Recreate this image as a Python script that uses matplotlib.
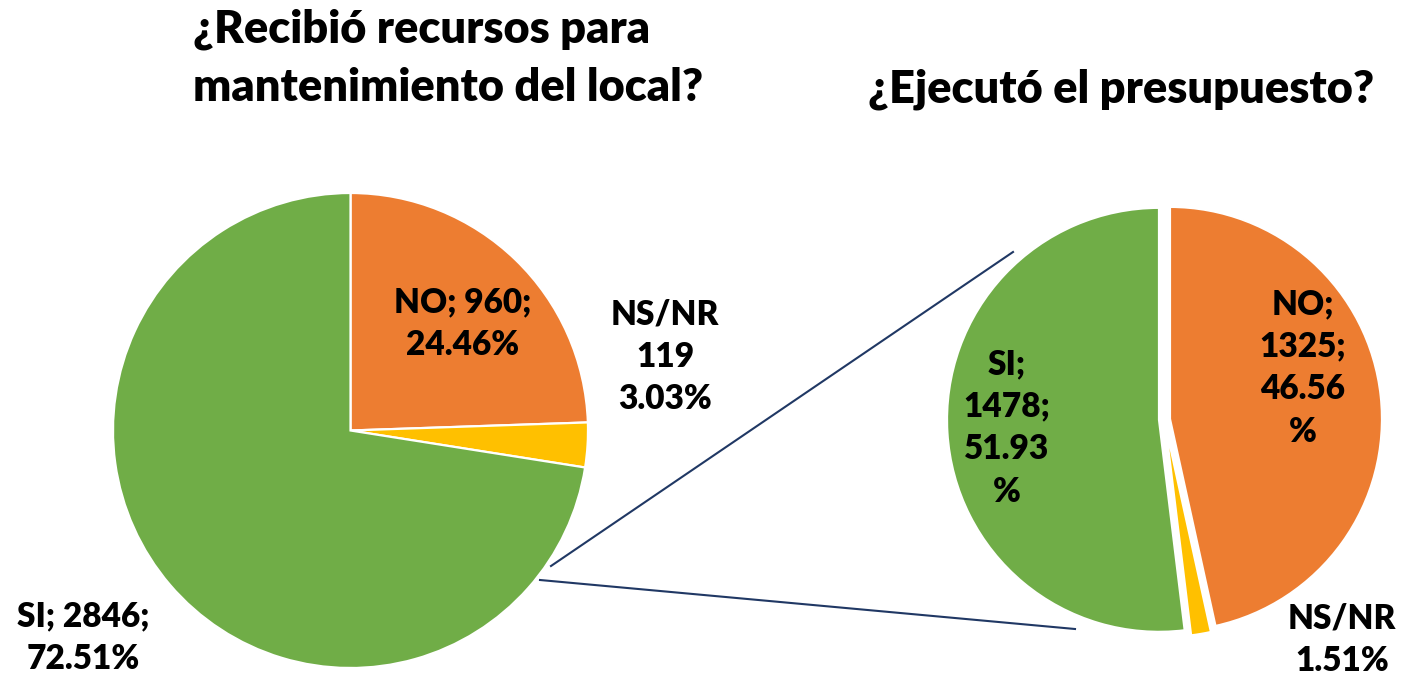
import matplotlib.pyplot as plt

plt.rcParams["font.family"] = ["Lato", "DejaVu Sans"]

# Data
categories = ["NO", "NS/NR", "SI"]
colors = ["#ED7D31", "#FFC000", "#70AD47"]

# Left pie: ¿Recibió recursos para mantenimiento del local?
left_counts = [960, 119, 2846]
left_pcts = [24.46, 3.03, 72.51]

# Right pie: ¿Ejecutó el presupuesto?
right_counts = [1325, 43, 1478]
right_pcts = [46.56, 1.51, 51.93]

W, H = 1422, 679
fig = plt.figure(figsize=(W / 100, H / 100), dpi=100)
ax = fig.add_axes([0, 0, 1, 1])


def py(y):
    # pixel y (from top) -> data y
    return H - y


wp = dict(edgecolor="white", linewidth=1.6)

ax.pie(left_counts, colors=colors, startangle=90, counterclock=False,
       center=(350.5, py(430.5)), radius=237.5, wedgeprops=wp)

# explode is in data units here (pixels)
ax.pie(right_counts, colors=colors, startangle=90, counterclock=False,
       center=(1164.5, py(419.5)), radius=212, explode=[5.5, 5.5, 5.5],
       wedgeprops=wp)

ax.set_xlim(0, W)
ax.set_ylim(0, H)
ax.set_aspect("equal")
ax.axis("off")

# connector lines from the SI slice to the second pie
line_color = "#203864"
ax.plot([551, 1013], [py(566), py(252)], color=line_color, lw=1.5)
ax.plot([540, 1075], [py(580), py(629)], color=line_color, lw=1.5)

fw = "heavy"
tsize = 32.5

# titles
ax.text(193, py(42), "¿Recibió recursos para", fontsize=tsize, fontweight=fw,
        ha="left", va="baseline")
ax.text(193, py(101), "mantenimiento del local?", fontsize=tsize, fontweight=fw,
        ha="left", va="baseline")
ax.text(1121, py(102), "¿Ejecutó el presupuesto?", fontsize=tsize, fontweight=fw,
        ha="center", va="baseline")

lsize = 24
ls = 1.4
kw = dict(fontsize=lsize, fontweight=fw, ha="center", va="center", linespacing=ls)

# left pie labels
ax.text(463, py(324), f"{categories[0]}; {left_counts[0]};\n{left_pcts[0]:.2f}%", **kw)
ax.text(665, py(357), f"{categories[1]}\n{left_counts[1]}\n{left_pcts[1]:.2f}%", **kw)
ax.text(83, py(638), f"{categories[2]}; {left_counts[2]};\n{left_pcts[2]:.2f}%", **kw)

# right pie labels
ax.text(1303, py(368), f"{categories[0]};\n{right_counts[0]};\n{right_pcts[0]:.2f}\n%", **kw)
ax.text(1007, py(428), f"{categories[2]};\n{right_counts[2]};\n{right_pcts[2]:.2f}\n%", **kw)
ax.text(1342, py(640), f"{categories[1]}\n{right_pcts[1]:.2f}%", **kw)

fig.savefig("out.png", dpi=100)
